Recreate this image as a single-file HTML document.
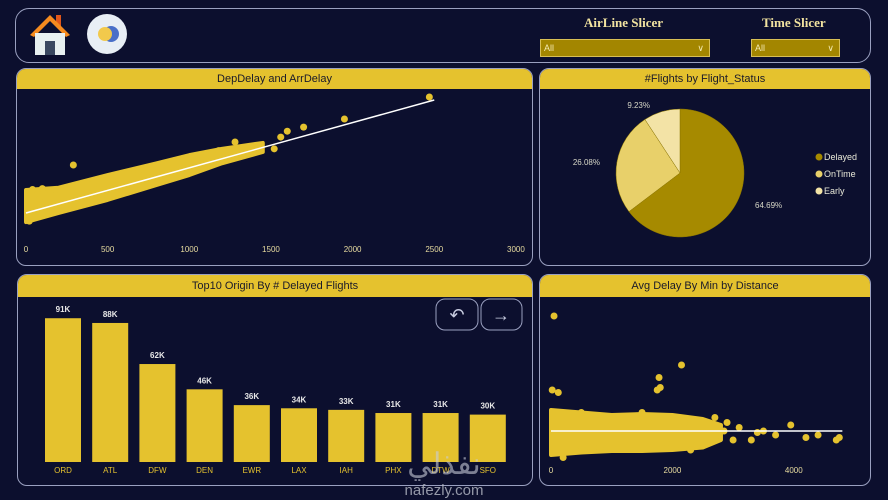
<!DOCTYPE html>
<html><head><meta charset="utf-8">
<style>
body{margin:0;width:888px;height:500px;background:#0c0f2e;overflow:hidden;font-family:"Liberation Sans",sans-serif;position:relative}
.panel{position:absolute;border:1px solid #9aa0c0;border-radius:10px;box-sizing:border-box;overflow:hidden}
.title{position:absolute;left:0;right:0;top:0;height:20px;background:#e5c22e;color:#1a1a2a;font-size:11px;text-align:center;line-height:20px}
.slt{position:absolute;font-family:"Liberation Serif",serif;font-weight:bold;color:#f2e3a0;font-size:13px}
.dd{position:absolute;background:#a38600;border:1px solid #d8bf55;color:#f3e9b0;font-size:9px;line-height:17px;padding-left:3px;box-sizing:border-box;height:18px}
.dd span{position:absolute;right:5px;top:0;font-size:9px}
svg text{font-family:"Liberation Sans",sans-serif}
</style></head><body>
<div class="panel" style="left:15px;top:8px;width:856px;height:55px;border-radius:14px"></div>
<svg style="position:absolute;left:28px;top:13px" width="44" height="44" viewBox="0 0 44 44">
<rect x="28" y="2" width="5" height="12" fill="#e0561a"/>
<polygon points="22,2 42,22 38,24 22,8 6,24 2,22" fill="#f68b1f"/>
<rect x="7" y="20" width="30" height="22" fill="#e8f0f0"/>
<rect x="17" y="28" width="10" height="14" fill="#3a4860"/>
</svg>
<svg style="position:absolute;left:86px;top:13px" width="42" height="42">
<ellipse cx="21" cy="21" rx="20" ry="20" fill="#e8eef5"/>
<circle cx="25" cy="21" r="8" fill="#4a6fc8"/>
<circle cx="19" cy="21" r="7" fill="#f2c94c"/>
</svg>
<div class="slt" style="left:584px;top:15px">AirLine Slicer</div>
<div class="slt" style="left:762px;top:15px">Time Slicer</div>
<div class="dd" style="left:540px;top:39px;width:170px">All<span>∨</span></div>
<div class="dd" style="left:751px;top:39px;width:89px">All<span>∨</span></div>

<div class="panel" style="left:16px;top:68px;width:517px;height:198px"><div class="title">DepDelay and ArrDelay</div></div>
<div class="panel" style="left:539px;top:68px;width:332px;height:198px"><div class="title">#Flights by Flight_Status</div></div>
<div class="panel" style="left:17px;top:274px;width:516px;height:212px"><div class="title" style="height:22px;line-height:22px">Top10 Origin By # Delayed Flights</div></div>
<div class="panel" style="left:539px;top:274px;width:332px;height:212px"><div class="title" style="height:22px;line-height:22px">Avg Delay By Min by Distance</div></div>

<svg id="chart" width="888" height="500" style="position:absolute;left:0;top:0">
<g id="g1"></g><g id="g2"></g><g id="g3"></g><g id="g4"></g>
<rect x="436" y="299" width="42" height="31" rx="9" fill="none" stroke="#9aa0c0"/>
<text x="457" y="321" fill="#c8cce0" font-size="18" text-anchor="middle">↶</text>
<rect x="481" y="299" width="41" height="31" rx="9" fill="none" stroke="#9aa0c0"/>
<text x="501" y="321" fill="#c8cce0" font-size="18" text-anchor="middle">→</text>
<text x="444" y="495" fill="#b8bcc8" font-size="15" text-anchor="middle" opacity="0.8">nafezly.com</text>
<text x="444" y="474" fill="#c8ccd8" font-size="30" text-anchor="middle" opacity="0.6" font-family="'Noto Sans CJK SC',sans-serif">نفذلي</text>
</svg>
<script>
const NS="http://www.w3.org/2000/svg";
function mk(p,t,a){const e=document.createElementNS(NS,t);for(const k in a)e.setAttribute(k,a[k]);p.appendChild(e);return e;}
// ---- chart 1 data
const s1X=[2470,1950,1700,1600,1560,1520,1280,1180,870,690,560,450,320,290,180,150,80,20,40,100,250,400,650,900,1100,1350,1420];
const s1Y=[2566,2080,1900,1810,1680,1420,1570,1380,1110,860,560,620,580,1062,520,420,300,-180,520,540,200,380,640,900,1160,1370,1450];
const band1X=[0,200,500,800,1000,1200,1450];
const band1Lo=[-200,0,290,620,840,1100,1350];
const band1Hi=[509,560,840,1100,1280,1420,1550];
const trend1=[[0,0],[2500,2500]];
const ticks1=[0,500,1000,1500,2000,2500,3000];
// ---- pie data
const pieLabels=["Delayed","OnTime","Early"];
const pieValues=[64.69,26.08,9.23];
// ---- bar data
const barCats=["ORD","ATL","DFW","DEN","EWR","LAX","IAH","PHX","DTW","SFO"];
const barVals=[91,88,62,46,36,34,33,31,31,30];
// ---- chart 4 data
const s4X=[50,2150,1780,1750,1800,20,120,3950,3000,40,2200,1600,2600,2850,1000,3500,4750,4400,4700,200,2900,3700,3100,3300,2700,2400,1300,800,400,1900,2300,3400,4200,500,1500];
const s4Y=[288,190,165,140,145,140,135,70,40,90,75,80,60,58,70,58,45,50,40,5,75,50,65,40,85,30,30,25,20,35,20,55,45,95,95];
const band4X=[0,500,1000,1500,2000,2500,2800];
const band4Lo=[10,15,18,18,20,25,40];
const band4Hi=[100,95,90,92,90,82,70];
const trend4=[[0,58],[4800,58]];
const ticks4=[0,2000,4000];

const g1=document.getElementById('g1');
const x1=v=>26+v*0.1633, y1=v=>213-v*0.0452;
let pts=band1X.map((v,i)=>x1(v)+','+y1(band1Hi[i])).concat(band1X.map((v,i)=>x1(v)+','+y1(band1Lo[i])).reverse());
let b=mk(g1,'polygon',{points:pts.join(' '),fill:'#e5c22e','stroke':'#e5c22e','stroke-width':4,'stroke-linejoin':'round'});


s1X.forEach((v,i)=>{const c=mk(g1,'circle',{cx:x1(v),cy:y1(s1Y[i]),r:3.5,fill:'#e5c22e'});

});
let l=mk(g1,'line',{x1:x1(trend1[0][0]),y1:y1(trend1[0][1]),x2:x1(trend1[1][0]),y2:y1(trend1[1][1]),stroke:'#fff','stroke-width':1.5});


ticks1.forEach(t=>{const e=mk(g1,'text',{x:x1(t),y:252,fill:'#e8dca0','font-size':8,'text-anchor':'middle'});e.textContent=t;

});

// pie
const g2=document.getElementById('g2');
const pc=['#a68a00','#e8d06a','#f3e3a6'];
const cx=680,cy=173,r=64;let tot=pieValues.reduce((a,b)=>a+b,0),a0=-Math.PI/2;
const lblPos=[[755,208,'start'],[600,165,'end'],[650,108,'end']];
pieValues.forEach((v,i)=>{const a1=a0+v/tot*2*Math.PI;
const d=`M${cx},${cy}L${cx+r*Math.cos(a0)},${cy+r*Math.sin(a0)}A${r},${r} 0 ${a1-a0>Math.PI?1:0} 1 ${cx+r*Math.cos(a1)},${cy+r*Math.sin(a1)}Z`;
const p=mk(g2,'path',{d,fill:pc[i],stroke:'#8a7400','stroke-width':0.5});


const t=mk(g2,'text',{x:lblPos[i][0],y:lblPos[i][1],fill:'#d8d8c8','font-size':8,'text-anchor':lblPos[i][2]});t.textContent=v.toFixed(2)+'%';


const lc=mk(g2,'circle',{cx:819,cy:157+i*17,r:3.5,fill:pc[i]});


const lt=mk(g2,'text',{x:824,y:160+i*17,fill:'#e8e8d8','font-size':9});lt.textContent=pieLabels[i];


a0=a1;});

// bars
const g3=document.getElementById('g3');
const base=462,k=1.58;
barCats.forEach((c,i)=>{const xc=63+i*47.2,h=barVals[i]*k;
const rc=mk(g3,'rect',{x:xc-18,y:base-h,width:36,height:h,fill:'#e5c22e'});


const t=mk(g3,'text',{x:xc,y:base-h-6,fill:'#e8e8e8','font-size':8,'font-weight':'bold','text-anchor':'middle'});t.textContent=barVals[i]+'K';


const xt=mk(g3,'text',{x:xc,y:473,fill:'#e5c22e','font-size':8,'text-anchor':'middle'});xt.textContent=c;

});

// scatter 4
const g4=document.getElementById('g4');
const x4=v=>551+v*0.0607, y4=v=>460-v*0.5;
pts=band4X.map((v,i)=>x4(v)+','+y4(band4Hi[i])).concat(band4X.map((v,i)=>x4(v)+','+y4(band4Lo[i])).reverse());
b=mk(g4,'polygon',{points:pts.join(' '),fill:'#e5c22e','stroke':'#e5c22e','stroke-width':4,'stroke-linejoin':'round'});


s4X.forEach((v,i)=>{const c=mk(g4,'circle',{cx:x4(v),cy:y4(s4Y[i]),r:3.5,fill:'#e5c22e'});

});
l=mk(g4,'line',{x1:x4(trend4[0][0]),y1:y4(trend4[0][1]),x2:x4(trend4[1][0]),y2:y4(trend4[1][1]),stroke:'#fff','stroke-width':1.5});


ticks4.forEach(t=>{const e=mk(g4,'text',{x:x4(t),y:473,fill:'#e8dca0','font-size':8,'text-anchor':'middle'});e.textContent=t;

});
</script>
</body></html>
